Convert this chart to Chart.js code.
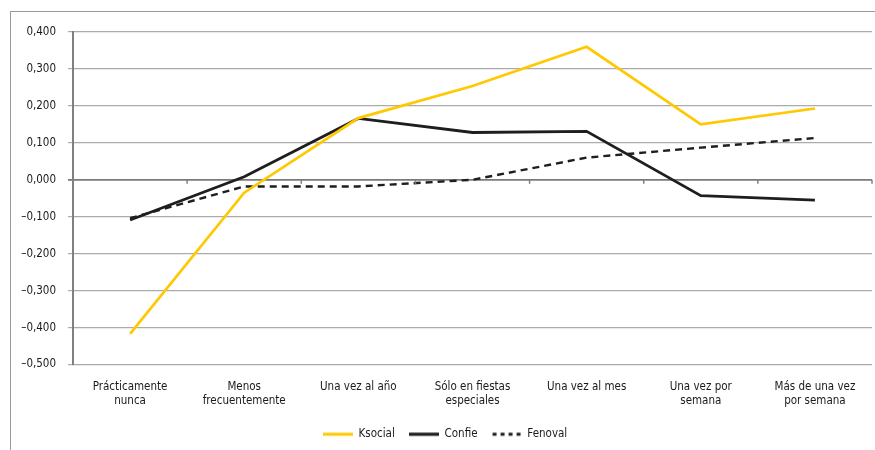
<!DOCTYPE html>
<html>
<head>
<meta charset="utf-8">
<script src="https://cdn.jsdelivr.net/npm/chart.js@4/dist/chart.umd.min.js"></script>
<style>
  html, body { margin: 0; padding: 0; background: #fff; }
  #wrap { position: relative; width: 875px; height: 450px; }
  #frame { position: absolute; left: 10px; top: 11px; right: 0; bottom: 0; border-left: 1px solid #9a9a9a; border-top: 1px solid #9a9a9a; pointer-events: none; }
  canvas { position: absolute; left: 0; top: 0; }
</style>
</head>
<body>
<div id="wrap">
  <canvas id="c" width="875" height="450"></canvas>
  <div id="frame"></div>
</div>
<script>
const categories = [
  ["Prácticamente", "nunca"],
  ["Menos", "frecuentemente"],
  ["Una vez al año"],
  ["Sólo en fiestas", "especiales"],
  ["Una vez al mes"],
  ["Una vez por", "semana"],
  ["Más de una vez", "por semana"]
];
const seriesNames = ["Ksocial", "Confie", "Fenoval"];
const ksocial = [-0.417, -0.035, 0.167, 0.254, 0.360, 0.150, 0.193];
const confie  = [-0.109, 0.008, 0.166, 0.128, 0.131, -0.043, -0.055];
const fenoval = [-0.104, -0.018, -0.018, 0.000, 0.060, 0.087, 0.113];
const yTicks = { min: -0.5, max: 0.4, step: 0.1 };

const FONT = '"Liberation Sans Narrow", "DejaVu Sans Condensed", "Roboto Condensed", "Open Sans", sans-serif';
const FONT_SIZE = 11.5;

function legendLine(color, width, dash) {
  const cv = document.createElement('canvas');
  cv.width = 30; cv.height = 6;
  const g = cv.getContext('2d');
  g.strokeStyle = color;
  g.lineWidth = width;
  g.setLineDash(dash || []);
  g.beginPath();
  g.moveTo(dash ? 1 : 0, 3);
  g.lineTo(30, 3);
  g.stroke();
  return cv;
}

const zeroTicks = {
  id: 'zeroTicks',
  afterLayout(chart) {
    if (chart.legend) { chart.legend.left += 9; chart.legend.right += 9; }
  },
  afterDatasetsDraw(chart) {
    const x = chart.scales.x, y = chart.scales.y;
    const ctx = chart.ctx;
    const y0 = y.getPixelForValue(0);
    ctx.save();
    ctx.strokeStyle = '#808080';
    ctx.lineWidth = 1.5;
    for (let i = 0; i <= categories.length; i++) {
      const px = x.getPixelForValue(i - 0.5);
      ctx.beginPath();
      ctx.moveTo(px, y0);
      ctx.lineTo(px, y0 + 4);
      ctx.stroke();
    }
    ctx.restore();
  }
};

new Chart(document.getElementById('c'), {
  type: 'line',
  data: {
    labels: categories,
    datasets: [
      { label: seriesNames[0], data: ksocial, borderColor: '#FFC800', backgroundColor: '#FFC800', borderWidth: 2.7, pointRadius: 0, tension: 0, pointStyle: legendLine('#FFC800', 3) },
      { label: seriesNames[1], data: confie, borderColor: '#1e1e1e', backgroundColor: '#1e1e1e', borderWidth: 2.8, pointRadius: 0, tension: 0, pointStyle: legendLine('#1e1e1e', 3.2) },
      { label: seriesNames[2], data: fenoval, borderColor: '#1e1e1e', backgroundColor: '#1e1e1e', borderWidth: 2.4, borderDash: [7, 5], pointRadius: 0, tension: 0, pointStyle: legendLine('#1e1e1e', 3, [4, 4]) }
    ]
  },
  options: {
    responsive: false,
    animation: false,
    devicePixelRatio: 1,
    layout: { padding: { left: 0, right: 3, top: 32, bottom: 0 } },
    plugins: {
      tooltip: { enabled: false },
      legend: {
        position: 'bottom',
        labels: {
          usePointStyle: true,
          pointStyleWidth: 30,
          boxWidth: 30,
          boxHeight: 12,
          padding: 14,
          color: '#1a1a1a',
          font: { family: FONT, size: FONT_SIZE }
        }
      }
    },
    scales: {
      x: {
        offset: true,
        afterFit(scale) { scale.height = 50; },
        grid: { display: false, drawTicks: false },
        border: { display: false },
        ticks: { color: '#1a1a1a', font: { family: FONT, size: FONT_SIZE }, padding: 16, maxRotation: 0, autoSkip: false }
      },
      y: {
        min: yTicks.min,
        max: yTicks.max,
        afterFit(scale) { scale.width = 73; },
        grid: {
          color: (c) => c.tick && Math.abs(c.tick.value) < 1e-9 ? '#7a7a7a' : '#ababab',
          lineWidth: (c) => c.tick && Math.abs(c.tick.value) < 1e-9 ? 1.8 : 1.2,
          tickLength: 5,
          drawTicks: true
        },
        border: { display: true, color: '#808080', width: 2 },
        ticks: {
          stepSize: yTicks.step,
          padding: 12,
          color: '#1a1a1a',
          font: { family: FONT, size: FONT_SIZE },
          callback: (v) => {
            const r = Math.round(v * 1000) / 1000;
            const s = Math.abs(r).toFixed(3).replace('.', ',');
            return r < 0 ? '\u2013' + s : s;
          }
        }
      }
    }
  },
  plugins: [zeroTicks]
});
</script>
</body>
</html>
